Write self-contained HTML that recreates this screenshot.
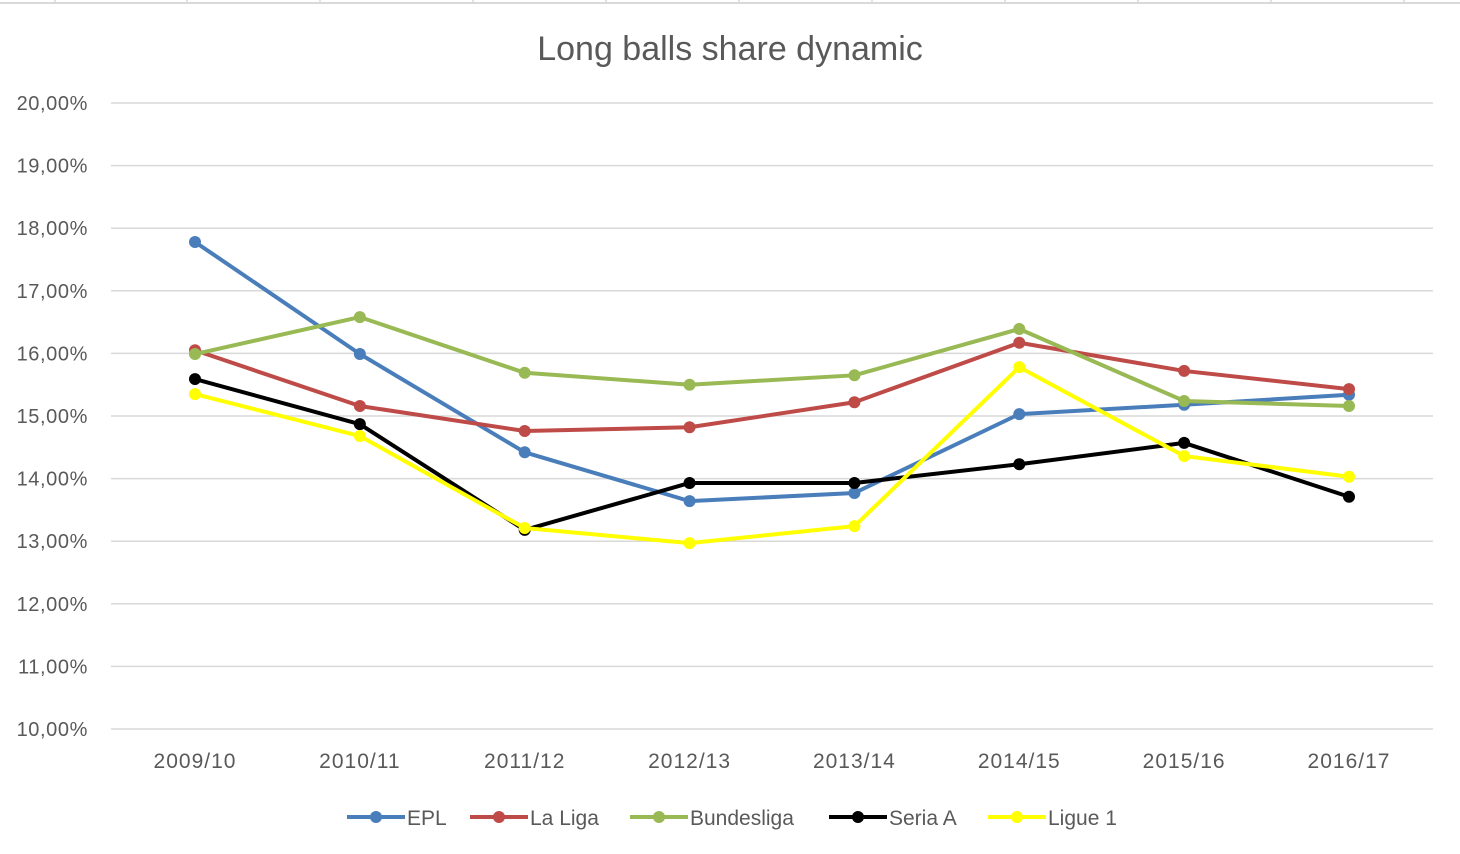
<!DOCTYPE html>
<html><head><meta charset="utf-8">
<style>
html,body{margin:0;padding:0;background:#fff;}
svg{display:block;font-family:"Liberation Sans",sans-serif;}
</style></head>
<body>
<svg id="chart" width="1460" height="854" viewBox="0 0 1460 854">
  <line x1="0" y1="3" x2="1460" y2="3" stroke="#d9d9d9" stroke-width="2"/>
  <g id="topticks"></g>
  <text x="730" y="60" text-anchor="middle" font-size="34" fill="#595959">Long balls share dynamic</text>
  <g id="grid"></g>
  <g id="yticks"></g>
  <g id="xticks"></g>
  <g id="series"></g>
  <g id="legend"></g>
</svg>
<script>
const categories = ["2009/10","2010/11","2011/12","2012/13","2013/14","2014/15","2015/16","2016/17"];
const yTicks = [10,11,12,13,14,15,16,17,18,19,20];
const seriesNames = ["EPL","La Liga","Bundesliga","Seria A","Ligue 1"];
const seriesColors = ["#4A7EBB","#BE4B48","#98B954","#000000","#FFFF00"];
const epl = [17.78,15.99,14.42,13.64,13.77,15.03,15.18,15.34];
const laLiga = [16.05,15.16,14.76,14.82,15.22,16.17,15.72,15.43];
const bundesliga = [15.99,16.58,15.69,15.50,15.65,16.39,15.24,15.16];
const seriaA = [15.59,14.87,13.18,13.93,13.93,14.23,14.57,13.71];
const ligue1 = [15.35,14.68,13.21,12.97,13.24,15.78,14.36,14.03];
const seriesValues = [epl, laLiga, bundesliga, seriaA, ligue1];

const NS = "http://www.w3.org/2000/svg";
const yMin = 10, yMax = 20, yTop = 103, yBot = 729;
const xFirst = 195, xLast = 1349;
function yScale(v){ return yBot - (v - yMin) / (yMax - yMin) * (yBot - yTop); }
function xScale(i){ return xFirst + i * (xLast - xFirst) / (categories.length - 1); }
function mk(tag, attrs, parent){ const e = document.createElementNS(NS, tag); for (const k in attrs) e.setAttribute(k, attrs[k]); parent.appendChild(e); return e; }

const tt = document.getElementById("topticks");
[55,187,320,473,606,739,872,1005,1138,1271,1404].forEach(x => {
  mk("line", {x1:x, x2:x, y1:0, y2:4, stroke:"#d9d9d9", "stroke-width":1.5}, tt);
});

const grid = document.getElementById("grid"), yt = document.getElementById("yticks");
yTicks.forEach(v => {
  const y = yScale(v);
  const l = mk("line", {x1:111, x2:1433, y1:y, y2:y, stroke:"#d9d9d9", "stroke-width":1.5}, grid);
  
  
  const t = mk("text", {x:88, y:y+7, "text-anchor":"end", "font-size":20, "letter-spacing":0.6, fill:"#595959"}, yt);
  t.textContent = v.toFixed(2).replace(".", ",") + "%";
  
  
});
const xt = document.getElementById("xticks");
categories.forEach((c, i) => {
  const t = mk("text", {x:xScale(i), y:768, "text-anchor":"middle", "font-size":21, "letter-spacing":1, fill:"#595959"}, xt);
  t.textContent = c;
  
  
});
const sg = document.getElementById("series");
seriesValues.forEach((vals, s) => {
  const g = mk("g", {}, sg);
  
  
  const pts = vals.map((v, i) => xScale(i) + "," + yScale(v)).join(" ");
  const pl = mk("polyline", {points:pts, fill:"none", stroke:seriesColors[s], "stroke-width":4, "stroke-linejoin":"round"}, g);
  
  
  vals.forEach((v, i) => {
    const c = mk("circle", {cx:xScale(i), cy:yScale(v), r:6, fill:seriesColors[s]}, g);
    
    
  });
});
const lg = document.getElementById("legend");
const legX = [347, 470, 630, 829, 988];
seriesNames.forEach((n, s) => {
  const g = mk("g", {}, lg);
  
  
  const x = legX[s];
  mk("line", {x1:x, x2:x+58, y1:817, y2:817, stroke:seriesColors[s], "stroke-width":4}, g);
  mk("circle", {cx:x+29, cy:817, r:6, fill:seriesColors[s]}, g);
  const t = mk("text", {x:x+60, y:825, "font-size":21, fill:"#595959"}, g);
  t.textContent = n;
});
</script>
</body></html>
